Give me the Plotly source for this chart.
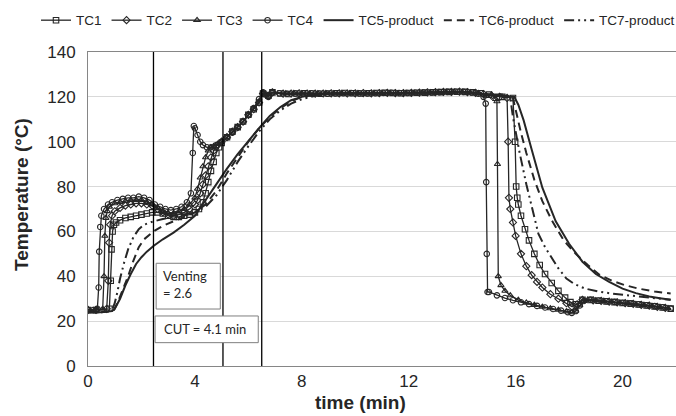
import plotly.graph_objects as go

# ---------------- data (time in min, temperature in °C) ----------------
t_tc1 = [0, 0.3, 0.8, 0.85, 0.88, 0.92, 0.97, 1.05, 1.2, 1.4, 1.6, 1.8, 2.0, 2.2, 2.4, 2.6, 2.8, 3.0, 3.2, 3.4,
         3.6, 3.8, 4.0, 4.15, 4.3, 4.4, 4.5, 4.6, 4.7, 4.8, 4.9, 5.0, 5.2, 5.4, 5.6, 5.8, 6.0, 6.2, 6.4, 6.55,
         6.75, 6.9,
         7.2, 7.5, 7.8, 8.1, 8.4, 8.7, 9.0, 9.3, 9.6, 9.9, 10.2, 10.5, 10.8, 11.1, 11.4, 11.7, 12.0, 12.3, 12.6,
         12.9, 13.2, 13.5, 13.8, 14.1, 14.4, 14.7,
         15.0, 15.5, 15.9, 15.98, 16.02, 16.06, 16.1, 16.2, 16.35, 16.5, 16.7, 16.9,
         17.1, 17.35, 17.6, 17.85, 18.05, 18.25, 18.5, 18.8, 19.1, 19.4, 19.7, 20.0, 20.3, 20.6, 20.9, 21.2,
         21.5, 21.8]
T_tc1 = [25, 25, 25.5, 38, 52, 60, 63, 64, 65, 66, 66.5, 67, 67.5, 68, 68.5, 68.5, 68, 67, 66.5, 66.5,
         67, 67.5, 68.5, 70, 73, 77, 82, 87, 91, 95, 97.5, 99.5, 102, 104.5, 106.5, 109, 112, 114.5, 117.5, 121.5,
         120.5, 122,
         121.5, 121.3, 121.5, 121.6, 121.5, 121.4, 121.5, 121.6, 121.7, 121.6, 121.5, 121.6, 121.7, 121.8, 121.7,
         121.6, 121.7, 121.8, 121.9, 122.0, 122.1, 122.2, 122.3, 122.2, 122.0, 121.6,
         121, 120, 119.5, 100, 80, 75, 72, 67, 61, 56, 50, 45,
         41, 37, 33.5, 30.5, 28.5, 27.5, 29.5, 29.4, 29.1, 28.8, 28.5, 28.1, 27.8, 27.4, 27.0, 26.6,
         26.1, 25.6]

t_tc2 = [0, 0.3, 0.7, 0.76, 0.79, 0.83, 0.9, 1.0, 1.2, 1.4, 1.6, 1.8, 2.0, 2.2, 2.4, 2.6, 2.8, 3.0, 3.2, 3.4,
         3.6, 3.8, 4.0, 4.1, 4.2, 4.3, 4.4, 4.5, 4.6, 4.7, 4.8, 5.0, 5.2, 5.4, 5.6, 5.8, 6.0, 6.2, 6.4, 6.55,
         6.75, 6.9,
         7.3, 7.6, 7.9, 8.2, 8.5, 8.8, 9.1, 9.4, 9.7, 10.0, 10.3, 10.6, 10.9, 11.2, 11.5, 11.8, 12.1, 12.4, 12.7,
         13.0, 13.3, 13.6, 13.9, 14.2, 14.5, 14.8,
         15.1, 15.4, 15.68, 15.72, 15.75, 15.8, 15.9, 16.0, 16.2, 16.4, 16.6, 16.8,
         17.0, 17.3, 17.6, 17.9, 18.1, 18.3, 18.5, 18.9, 19.2, 19.5, 19.8, 20.1, 20.4, 20.7, 21.0, 21.3, 21.6]
T_tc2 = [25, 25, 25.5, 38, 55, 63, 67, 69, 70.5, 71.5, 72, 72.5, 72.5, 72, 71.5, 70, 68.5, 67.5, 67, 67.5,
         68.5, 70, 72, 74, 77, 81, 85, 89, 93, 96, 98, 100, 102, 104.5, 106.5, 109, 112, 114.5, 117.5, 121.5,
         120.5, 122,
         121.4, 121.5, 121.6, 121.5, 121.4, 121.5, 121.6, 121.6, 121.5, 121.6, 121.7, 121.6, 121.7, 121.8, 121.7,
         121.7, 121.8, 121.9, 122.0, 122.1, 122.2, 122.2, 122.3, 122.1, 121.8, 121.2,
         120.5, 120, 119.5, 100, 75, 70, 64, 58, 50, 44.5, 40.5, 37.5,
         35, 32, 30, 28, 26.5, 27.5, 29.5, 29.3, 29.0, 28.7, 28.4, 28.0, 27.7, 27.3, 26.9, 26.4, 25.9]

t_tc3 = [0, 0.3, 0.55, 0.6, 0.63, 0.67, 0.72, 0.8, 1.0, 1.2, 1.4, 1.6, 1.8, 2.0, 2.2, 2.4, 2.6, 2.8, 3.0, 3.2,
         3.4, 3.6, 3.8, 4.0, 4.1, 4.2, 4.3, 4.4, 4.5, 4.6, 4.7, 4.85, 5.0, 5.2, 5.4, 5.6, 5.8, 6.0, 6.2, 6.4,
         6.55, 6.75, 6.9,
         7.4, 7.7, 8.0, 8.3, 8.6, 8.9, 9.2, 9.5, 9.8, 10.1, 10.4, 10.7, 11.0, 11.3, 11.6, 11.9, 12.2, 12.5, 12.8,
         13.1, 13.4, 13.7, 14.0, 14.3, 14.6,
         14.9, 15.1, 15.25, 15.3, 15.32, 15.35, 15.45, 15.6, 15.8, 16.1, 16.4, 16.7, 17.0, 17.3, 17.6, 17.9,
         18.1, 18.25, 18.4, 18.55, 18.7, 19.0, 19.3, 19.6, 19.9, 20.2, 20.5, 20.8, 21.1, 21.4, 21.7]
T_tc3 = [25, 25, 25.5, 40, 58, 66, 69, 71, 72.5, 73, 73.5, 74, 74, 74, 73, 72, 70.5, 69, 68, 68,
         69, 70, 72, 75, 79, 84, 89, 93, 96, 97.5, 98, 99, 100, 102, 104.5, 106.5, 109, 112, 114.5, 117.5,
         121.5, 120.5, 122,
         121.5, 121.6, 121.5, 121.4, 121.5, 121.6, 121.5, 121.6, 121.7, 121.6, 121.5, 121.6, 121.7, 121.8, 121.7,
         121.8, 121.8, 121.9, 122.0, 122.1, 122.2, 122.3, 122.2, 122.0, 121.6,
         120.5, 121, 119, 118, 90, 40, 36, 33.5, 31.5, 29.5, 28.2, 27.2, 26.4, 25.7, 25, 24.3,
         23.9, 24.6, 27, 29, 29.6, 29.3, 29.0, 28.7, 28.3, 28.0, 27.6, 27.2, 26.8, 26.3, 25.8]

t_tc4 = [0, 0.2, 0.35, 0.4, 0.42, 0.46, 0.5, 0.6, 0.75, 0.9, 1.1, 1.3, 1.5, 1.7, 1.9, 2.1, 2.3, 2.5, 2.7, 2.9,
         3.1, 3.3, 3.5, 3.7, 3.85, 3.92, 3.96, 4.0, 4.1, 4.2, 4.3, 4.45, 4.6, 4.8, 5.0, 5.2, 5.4, 5.6, 5.8, 6.0,
         6.2, 6.4, 6.55, 6.65, 6.75, 6.9,
         7.15, 7.45, 7.75, 8.05, 8.35, 8.65, 8.95, 9.25, 9.55, 9.85, 10.15, 10.45, 10.75, 11.05, 11.35, 11.65,
         11.95, 12.25, 12.55, 12.85, 13.15, 13.45, 13.75, 14.05, 14.35, 14.6,
         14.8, 14.88, 14.9, 14.92, 14.95, 15.0, 15.3, 15.6, 15.9, 16.2, 16.5, 16.8, 17.1, 17.4, 17.7, 17.95,
         18.1, 18.25, 18.4, 18.55, 18.8, 19.1, 19.4, 19.7, 20.0, 20.3, 20.6, 20.9, 21.2, 21.5, 21.8]
T_tc4 = [25, 25, 25.5, 35, 51, 62, 67, 70, 72, 73, 74, 74.5, 75, 75, 75.5, 75, 74, 72, 71, 70,
         69.5, 70, 71, 73, 77, 95, 107, 106, 103, 100, 98.5, 97.5, 97.5, 98.5, 100, 102, 104, 106.5, 109, 112,
         115, 119, 122, 121, 120, 122,
         121.6, 121.4, 121.5, 121.5, 121.6, 121.5, 121.4, 121.5, 121.6, 121.7, 121.6, 121.5, 121.6, 121.7, 121.8,
         121.7, 121.7, 121.8, 121.9, 122.0, 122.1, 122.2, 122.3, 122.2, 122.0, 121.4,
         120, 117, 82, 50, 33, 33, 31.5, 30.3, 29.3, 28.4, 27.6, 26.8, 26.1, 25.4, 24.7, 24.0,
         23.7, 24.5, 27, 29, 29.6, 29.2, 28.9, 28.6, 28.2, 27.9, 27.5, 27.1, 26.7, 26.2, 25.6]

t_tc5 = [0, 0.5, 0.9, 1.0, 1.2, 1.4, 1.6, 1.8, 2.0, 2.2, 2.45, 2.8, 3.2, 3.6, 4.0, 4.4, 4.8, 5.2, 5.6, 6.0,
         6.4, 6.8, 7.2, 7.6, 8.0, 8.5, 9.0, 10, 11, 12, 13, 14, 15, 15.6, 15.95, 16.1, 16.3, 16.6, 17.0, 17.5,
         18.0, 18.5, 19.0, 19.5, 20.0, 20.5, 21.0, 21.4, 21.8]
T_tc5 = [24, 24, 24.5, 25.5, 30, 36, 41, 45.5, 48.5, 51, 53.5, 56.5, 59.5, 63, 67, 74, 81.5, 88, 94.5, 100.5,
         106, 111.5, 115.5, 118.5, 120, 121, 121.5, 121.5, 121.5, 121.5, 121.5, 122, 121, 120.5, 120, 116.5, 109.5,
         96.5, 79.5, 64.5, 54.5, 46.5, 41, 37.5, 34.5, 32.5, 31, 30.2, 29.5]

t_tc6 = [0, 0.5, 0.95, 1.1, 1.3, 1.5, 1.7, 1.9, 2.1, 2.45, 2.8, 3.2, 3.6, 4.0, 4.4, 4.8, 5.2, 5.6, 6.0, 6.4,
         6.8, 7.2, 7.6, 8.0, 8.5, 9.0, 10, 11, 12, 13, 14, 15, 15.6, 15.9, 16.05, 16.2, 16.4, 16.7, 17.0, 17.35,
         17.8, 18.25, 18.7, 19.1, 19.6, 20.1, 20.6, 21.2, 21.8]
T_tc6 = [24, 24, 24.5, 28, 34, 40, 47, 53, 56.5, 60, 62.5, 64.5, 66.5, 68.5, 72, 78, 86, 93, 100, 106,
         111, 115, 118, 120, 121, 121.5, 121.5, 121.5, 121.5, 121.5, 122, 121, 120.5, 119.5, 111, 104, 95, 83,
         73.5, 65, 56, 50, 45, 41, 38, 36, 34.5, 33.2, 32.3]

t_tc7 = [0, 0.5, 0.9, 1.0, 1.1, 1.2, 1.35, 1.5, 1.7, 1.9, 2.1, 2.45, 2.8, 3.2, 3.6, 4.0, 4.4, 4.8, 5.2, 5.6,
         6.0, 6.4, 6.8, 7.2, 7.6, 8.0, 8.5, 9.0, 10, 11, 12, 13, 14, 15, 15.6, 15.8, 15.9, 16.0, 16.15, 16.4,
         16.65, 16.85, 17.1, 17.35, 17.6, 17.9, 18.2, 18.6, 19.1, 19.6, 20.2, 20.8, 21.4, 21.8]
T_tc7 = [24, 24, 25, 28, 33, 39, 46, 52, 57.5, 61, 63, 64.5, 65.5, 66.5, 67.5, 68.5, 71, 76, 83, 91,
         98, 104.5, 110, 114, 117, 119, 120.5, 121.5, 121.5, 121.5, 121.5, 121.5, 122, 121, 121, 119.5, 111, 104,
         95, 81, 68, 59, 53, 48, 43.5, 39, 36.5, 34.5, 33.2, 32.3, 31.5, 30.8, 30, 29.5]

series_names = ["TC1", "TC2", "TC3", "TC4", "TC5-product", "TC6-product", "TC7-product"]
x_tick_vals = [0, 4, 8, 12, 16, 20]
y_tick_vals = [0, 20, 40, 60, 80, 100, 120, 140]
event_times = [2.45, 5.05, 6.5]          # vertical marker lines (min)
venting_text = "Venting<br>= 2.6"
cut_text = "CUT = 4.1 min"

# ---------------- styling ----------------
ink = "#262626"
sans = "Arial, Liberation Sans, sans-serif"
marker_syms = ["square-open", "diamond-open", "triangle-up-open", "circle-open"]
times = [t_tc1, t_tc2, t_tc3, t_tc4, t_tc5, t_tc6, t_tc7]
temps = [T_tc1, T_tc2, T_tc3, T_tc4, T_tc5, T_tc6, T_tc7]

fig = go.Figure()
for i in range(4):
    fig.add_trace(go.Scatter(
        x=times[i], y=temps[i], name=series_names[i], mode="lines+markers",
        line=dict(color=ink, width=1.3),
        marker=dict(symbol=marker_syms[i], size=5.5, color=ink, line=dict(width=1.1, color=ink)),
    ))
line_dashes = ["solid", "8px,5px", "10px,4px,2px,4px,2px,4px"]
for j in range(3):
    fig.add_trace(go.Scatter(
        x=times[4 + j], y=temps[4 + j], name=series_names[4 + j], mode="lines",
        line=dict(color=ink, width=2, dash=line_dashes[j]),
    ))

shapes = []
for et in event_times:
    shapes.append(dict(type="line", xref="x", yref="y", x0=et, x1=et, y0=0, y1=140,
                       line=dict(color="#000000", width=1.3), layer="above"))
# text boxes
shapes.append(dict(type="rect", xref="x", yref="y", x0=2.55, x1=4.95, y0=25.4, y1=45.8,
                   fillcolor="white", line=dict(color="#7f7f7f", width=1), layer="above"))
shapes.append(dict(type="rect", xref="x", yref="y", x0=2.51, x1=6.37, y0=10.4, y1=22.3,
                   fillcolor="white", line=dict(color="#7f7f7f", width=1), layer="above"))

box_font = dict(family="Lato, Open Sans, sans-serif", size=13, color="#262626")
annotations = [
    dict(xref="x", yref="y", x=2.55, y=45.8, xanchor="left", yanchor="top", xshift=5, yshift=-3,
         text=venting_text, showarrow=False, align="left", font=box_font),
    dict(xref="x", yref="y", x=2.51, y=16.35, xanchor="left", yanchor="middle", xshift=7,
         text=cut_text, showarrow=False, align="left", font=box_font),
    dict(xref="paper", yref="paper", x=0.4626, y=-0.1178, xanchor="center", yanchor="middle",
         text="<b>time (min)</b>", showarrow=False,
         font=dict(family=sans, size=19, color=ink)),
    dict(xref="paper", yref="paper", x=-0.1122, y=0.5446, xanchor="center", yanchor="middle",
         text="<b>Temperature (°C)</b>", textangle=-90, showarrow=False,
         font=dict(family=sans, size=19, color=ink)),
]

fig.update_layout(
    width=676, height=416,
    margin=dict(l=88, r=0, t=52, b=50, autoexpand=False),
    paper_bgcolor="white", plot_bgcolor="white",
    font=dict(family=sans, color=ink),
    showlegend=True,
    legend=dict(orientation="h", xref="paper", yref="paper", x=-0.0884, y=1.15,
                xanchor="left", yanchor="top", font=dict(size=13.5, color=ink, family=sans),
                bgcolor="rgba(0,0,0,0)", itemclick=False),
    shapes=shapes,
    annotations=annotations,
    xaxis=dict(range=[0, 22], tickvals=x_tick_vals, showgrid=False, zeroline=False,
               showline=True, linecolor="#868686", linewidth=1, mirror=True,
               ticks="", tickfont=dict(size=17, color=ink, family=sans), automargin=False),
    yaxis=dict(range=[0, 140], tickvals=y_tick_vals, showgrid=True, gridcolor="#d9d9d9", gridwidth=1,
               zeroline=False, showline=True, linecolor="#868686", linewidth=1, mirror=True,
               ticks="", tickfont=dict(size=17, color=ink, family=sans), ticklabelstandoff=8,
               automargin=False),
)

fig.write_html("out.html", config={"displayModeBar": False},
               post_script="document.body.style.margin='0px';")
